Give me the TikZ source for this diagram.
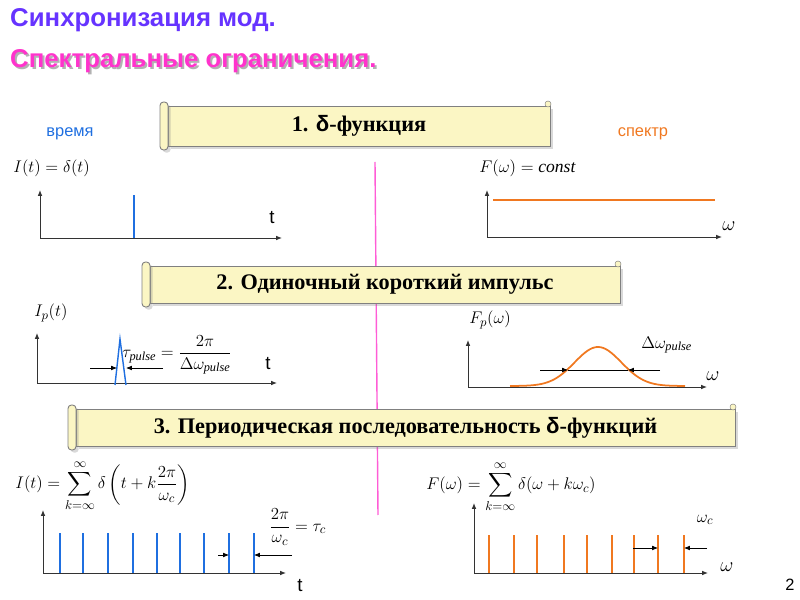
\documentclass[tikz,border=0pt]{standalone}
\usepackage{fontspec}
\setmainfont{Liberation Serif}
\setsansfont{Liberation Sans}
\usepackage{amsmath}
\usetikzlibrary{positioning,arrows.meta,shadows}
\definecolor{titleblue}{HTML}{6633FF}
\definecolor{titlepink}{HTML}{FF33CC}
\definecolor{spikeblue}{HTML}{1F6FE0}
\definecolor{spectorange}{HTML}{F07820}
\definecolor{scrollfill}{HTML}{FBF6C4}
\tikzset{
  axis/.style={-{Latex[length=5pt,width=4pt]},line width=0.8pt,black!80},
  spike/.style={line width=1.8pt,spikeblue},
  ospike/.style={line width=1.8pt,spectorange},
  dim/.style={-{Latex[length=5pt,width=4pt]},line width=0.6pt},
  lbl/.style={font=\sffamily\fontsize{14}{16}\selectfont,inner sep=1pt},
  formula/.style={font=\fontsize{15}{18}\selectfont,inner sep=1pt},
  banner/.style={draw=black!50,line width=0.8pt,fill=scrollfill,drop shadow={opacity=0.3}},
  bannertext/.style={font=\bfseries\fontsize{19}{22}\selectfont,inner sep=0pt}
}
% scroll banner: left x, top y, right x, bottom y
\newcommand{\scrollbanner}[5]{%
  \draw[banner] (#1+8,#2+4) rectangle (#3,#4-2);
  \draw[banner,rounded corners=3pt] (#1,#2) rectangle (#1+8,#4+2);
  \draw[black!50,fill=scrollfill] (#3-2,#2+2) circle (3);
  \node[bannertext] at ({(#1+#3)/2+4},{(#2+#4)/2+1}) {#5};
}
\newcommand{\dsans}{{\sffamily\bfseries δ}}
\begin{document}
\begin{tikzpicture}[x=0.03cm,y=-0.03cm]
  \useasboundingbox (0,0) rectangle (800,600);
  % titles
  \node[anchor=west,inner sep=0pt,font=\sffamily\bfseries\fontsize{22}{26}\selectfont,text=titleblue] (title1) at (10,20) {Синхронизация мод.};
  \node[anchor=west,inner sep=0pt,font=\sffamily\bfseries\fontsize{22}{26}\selectfont,text=black!30] at (12,63) {Спектральные ограничения.};
  \node[anchor=west,inner sep=0pt,font=\sffamily\bfseries\fontsize{22}{26}\selectfont,text=titlepink] (title2) at (10,61) {Спектральные ограничения.};
  % divider
  \draw[titlepink!80,line width=1.2pt] (375,162) -- (378,515);
  % banners
  \scrollbanner{160}{102}{550}{148}{1. \dsans-функция}
  \scrollbanner{142}{262}{620}{305}{2. Одиночный короткий импульс}
  \scrollbanner{68}{405}{735}{448}{3. Периодическая последовательность \dsans-функций}
  % section 1
  \node[lbl,text=spikeblue] (time) at (70,134) {время};
  \node[lbl,text=spectorange] (spec) at (643,134) {спектр};
  \coordinate (o1) at (40,238);
  \draw[axis] (o1) -- (40,190);
  \draw[axis] (o1) -- (282,238);
  \draw[spike] (134,238) -- (134,195);
  \node[lbl,font=\sffamily\fontsize{16}{18}\selectfont] (t1) at (272,218) {t};
  \node[formula,anchor=west] (f1) at (12,168) {$I(t)=\delta(t)$};
  \coordinate (o2) at (487,237);
  \draw[axis] (o2) -- (487,190);
  \draw[axis] (o2) -- (722,237);
  \draw[ospike] (493,200) -- (715,200);
  \node[formula,font=\fontsize{16}{18}\selectfont] (w1) at (729,226) {$\omega$};
  \node[formula,anchor=west] (f2) at (478,168) {$F(\omega)=\mathit{const}$};
  % section 2
  \coordinate (o3) at (37,383);
  \draw[axis] (o3) -- (37,333);
  \draw[axis] (o3) -- (277,383);
  \draw[line width=1.2pt,spikeblue] (115,385) -- (120,339) -- (126,385);
  \coordinate (pl) at (117,368);
  \coordinate (pr) at (126,368);
  \draw[dim] (90,368) -- (pl);
  \draw[dim] (163,368) -- (pr);
  \node[formula,anchor=west] (tau) at (121,355) {$\tau_{\mathit{pulse}}=\dfrac{2\pi}{\Delta\omega_{\mathit{pulse}}}$};
  \node[lbl,font=\sffamily\fontsize{16}{18}\selectfont] (t2) at (268,364) {t};
  \node[formula,anchor=west] (f3) at (33,313) {$I_p(t)$};
  \coordinate (o4) at (468,387);
  \draw[axis] (o4) -- (468,340);
  \draw[axis] (o4) -- (707,387);
  \draw[ospike,line width=1.5pt,domain=510:685,samples=80,smooth] plot (\x,{386-39*exp(-((\x-598)/33)^2)});
  \coordinate (gl) at (568,370);
  \coordinate (gr) at (628,370);
  \draw[dim] (540,370) -- (gl);
  \draw[dim] (660,370) -- (gr);
  \draw[line width=0.6pt] (gl) -- (gr);
  \node[formula,anchor=west] (dw) at (640,345) {$\Delta\omega_{\mathit{pulse}}$};
  \node[formula,font=\fontsize{16}{18}\selectfont] (w2) at (713,376) {$\omega$};
  \node[formula,anchor=west] (f4) at (468,320) {$F_p(\omega)$};
  % section 3
  \coordinate (o5) at (43,573);
  \draw[axis] (o5) -- (43,510);
  \draw[axis] (o5) -- (286,573);
  \foreach \xs in {60,83,108,133,157,180,204,229,254}
    \draw[spike] (\xs,573) -- (\xs,533);
  \draw[dim] (218,555) -- (229,555);
  \draw[dim] (292,555) -- (254,555);
  \node[formula,anchor=west] (tc) at (268,527) {$\dfrac{2\pi}{\omega_c}=\tau_c$};
  \node[lbl,font=\sffamily\fontsize{16}{18}\selectfont] (t3) at (300,586) {t};
  \node[formula,anchor=west] (f5) at (14,486) {$I(t)=\displaystyle\sum_{k=\infty}^{\infty}\delta\left(t+k\frac{2\pi}{\omega_c}\right)$};
  \coordinate (o6) at (474,573);
  \draw[axis] (o6) -- (474,503);
  \draw[axis] (o6) -- (708,573);
  \foreach \xs in {489,514,537,564,587,612,634,658,684}
    \draw[ospike] (\xs,573) -- (\xs,535);
  \draw[dim] (633,548) -- (658,548);
  \draw[dim] (707,548) -- (684,548);
  \node[formula] (wc) at (705,520) {$\omega_c$};
  \node[formula,font=\fontsize{16}{18}\selectfont] (w3) at (727,567) {$\omega$};
  \node[formula,anchor=west] (f6) at (425,487) {$F(\omega)=\displaystyle\sum_{k=\infty}^{\infty}\delta(\omega+k\omega_c)$};
  \node[lbl] (pg) at (790,585) {2};
\end{tikzpicture}
\end{document}
